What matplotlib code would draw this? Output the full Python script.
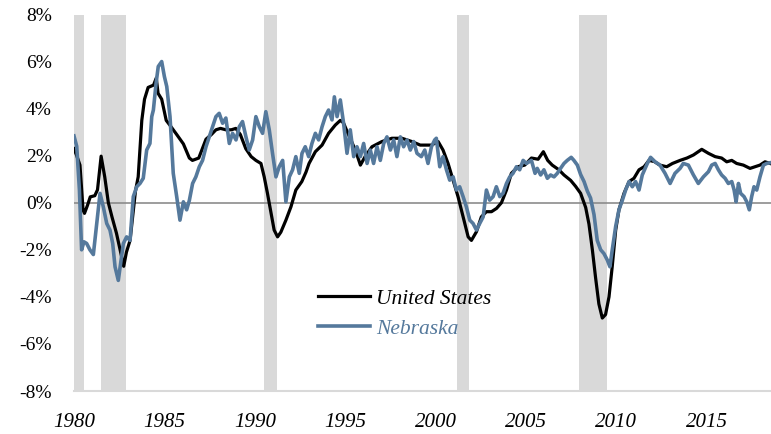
import matplotlib
matplotlib.use('Agg')
import matplotlib.pyplot as plt

plt.rcParams['font.family'] = ['Liberation Serif', 'DejaVu Serif']

# recession bands (decimal years)
rec_start = [1980.0, 1981.5, 1990.5, 2001.17, 2007.92]
rec_end = [1980.55, 1982.88, 1991.2, 2001.85, 2009.47]

# United States, year-over-year job growth (%)
us_years = [1980.0, 1980.15, 1980.33, 1980.5, 1980.58, 1980.75, 1980.9, 1981.15, 1981.3, 1981.5,
            1981.7, 1981.9, 1982.1, 1982.35, 1982.55, 1982.75, 1982.9, 1983.1, 1983.4, 1983.55,
            1983.75, 1983.9, 1984.1, 1984.4, 1984.55, 1984.65, 1984.85, 1985.1, 1985.3, 1985.68,
            1986.05, 1986.38, 1986.55, 1986.9, 1987.0, 1987.3, 1987.6, 1987.85, 1988.1, 1988.4,
            1988.7, 1988.95, 1989.2, 1989.5, 1989.8, 1990.06, 1990.34, 1990.52, 1990.7, 1990.9,
            1991.07, 1991.26, 1991.44, 1991.72, 1992.0, 1992.27, 1992.6, 1992.83, 1993.0, 1993.35,
            1993.72, 1994.08, 1994.45, 1994.73, 1994.9, 1995.19, 1995.56, 1995.84, 1996.1, 1996.48,
            1997.03, 1997.58, 1998.14, 1998.69, 1999.15, 1999.5, 1999.77, 2000.14, 2000.41, 2000.69,
            2000.97, 2001.24, 2001.52, 2001.8, 2001.98, 2002.26, 2002.53, 2002.81, 2003.09, 2003.37,
            2003.64, 2003.92, 2004.19, 2004.56, 2004.93, 2005.3, 2005.67, 2005.96, 2006.2, 2006.45,
            2006.82, 2007.1, 2007.47, 2007.74, 2008.02, 2008.3, 2008.48, 2008.67, 2008.85, 2009.03,
            2009.22, 2009.4, 2009.59, 2009.77, 2009.96, 2010.14, 2010.42, 2010.7, 2010.97, 2011.25,
            2011.53, 2011.8, 2012.1, 2012.4, 2012.78, 2013.1, 2013.52, 2013.9, 2014.26, 2014.72,
            2015.09, 2015.46, 2015.82, 2016.1, 2016.38, 2016.65, 2017.02, 2017.39, 2017.67, 2017.94,
            2018.22, 2018.5]
us_vals = [2.3, 2.0, 1.6, -0.3, -0.45, -0.1, 0.25, 0.3, 0.55, 1.98,
           1.1, 0.0, -0.6, -1.3, -2.0, -2.7, -2.1, -1.6, 0.5, 1.1,
           3.5, 4.4, 4.9, 5.0, 5.3, 4.65, 4.4, 3.5, 3.3, 2.9,
           2.5, 1.9, 1.8, 1.9, 2.1, 2.7, 2.9, 3.1, 3.16, 3.1,
           3.1, 3.16, 2.9, 2.3, 1.96, 1.8, 1.67, 1.1, 0.4, -0.45,
           -1.16, -1.45, -1.25, -0.74, -0.17, 0.54, 0.9, 1.3, 1.67, 2.17,
           2.45, 2.95, 3.3, 3.5, 3.4, 2.88, 2.24, 1.6, 1.96, 2.38,
           2.6, 2.74, 2.74, 2.6, 2.45, 2.45, 2.45, 2.6, 2.24, 1.67,
           0.96, 0.26, -0.6, -1.45, -1.6, -1.23, -0.6, -0.38, -0.38, -0.24,
           0.0, 0.54, 1.25, 1.53, 1.6, 1.9, 1.85, 2.17, 1.8, 1.6,
           1.4, 1.18, 0.95, 0.7, 0.4, -0.2, -0.9, -2.0, -3.2, -4.3,
           -4.9, -4.75, -4.0, -2.7, -1.16, -0.3, 0.4, 0.9, 1.04, 1.4,
           1.53, 1.8, 1.75, 1.6, 1.53, 1.67, 1.8, 1.9, 2.03, 2.27,
           2.1, 1.96, 1.9, 1.74, 1.8, 1.67, 1.6, 1.46, 1.53, 1.6,
           1.74, 1.67]

# Nebraska, year-over-year job growth (%)
ne_years = [1980.0, 1980.15, 1980.3, 1980.42, 1980.55, 1980.7, 1980.88, 1981.07, 1981.22, 1981.44,
            1981.62, 1981.81, 1981.99, 1982.14, 1982.27, 1982.45, 1982.58, 1982.73, 1982.91, 1983.1,
            1983.28, 1983.47, 1983.65, 1983.83, 1984.02, 1984.2, 1984.3, 1984.39, 1984.54, 1984.66,
            1984.85, 1985.0, 1985.13, 1985.31, 1985.49, 1985.68, 1985.86, 1986.05, 1986.23, 1986.38,
            1986.56, 1986.74, 1986.93, 1987.11, 1987.3, 1987.48, 1987.66, 1987.85, 1988.03, 1988.22,
            1988.4, 1988.59, 1988.77, 1988.96, 1989.14, 1989.32, 1989.51, 1989.69, 1989.88, 1990.06,
            1990.25, 1990.43, 1990.61, 1990.8, 1990.98, 1991.17, 1991.35, 1991.54, 1991.72, 1991.91,
            1992.09, 1992.27, 1992.46, 1992.61, 1992.79, 1992.98, 1993.16, 1993.35, 1993.53, 1993.72,
            1993.9, 1994.08, 1994.27, 1994.4, 1994.55, 1994.73, 1994.91, 1995.1, 1995.28, 1995.47,
            1995.65, 1995.84, 1996.02, 1996.21, 1996.39, 1996.57, 1996.76, 1996.94, 1997.13, 1997.31,
            1997.5, 1997.68, 1997.86, 1998.05, 1998.23, 1998.42, 1998.6, 1998.79, 1998.97, 1999.21,
            1999.4, 1999.58, 1999.77, 1999.95, 2000.04, 2000.23, 2000.41, 2000.6, 2000.78, 2000.97,
            2001.15, 2001.33, 2001.52, 2001.7, 2001.89, 2002.07, 2002.26, 2002.44, 2002.63, 2002.81,
            2002.99, 2003.18, 2003.36, 2003.55, 2003.73, 2003.92, 2004.1, 2004.28, 2004.47, 2004.65,
            2004.84, 2005.02, 2005.3, 2005.5, 2005.62, 2005.81, 2005.99, 2006.18, 2006.36, 2006.55,
            2006.73, 2006.91, 2007.1, 2007.28, 2007.5, 2007.65, 2007.84, 2008.02, 2008.21, 2008.39,
            2008.57, 2008.76, 2008.94, 2009.13, 2009.31, 2009.5, 2009.64, 2009.77, 2009.96, 2010.14,
            2010.33, 2010.51, 2010.7, 2010.88, 2011.06, 2011.25, 2011.43, 2011.71, 2011.89, 2012.14,
            2012.41, 2012.69, 2012.97, 2013.24, 2013.52, 2013.7, 2013.98, 2014.26, 2014.53, 2014.81,
            2015.09, 2015.27, 2015.46, 2015.64, 2015.82, 2016.01, 2016.19, 2016.38, 2016.51, 2016.62,
            2016.75, 2016.87, 2017.06, 2017.21, 2017.35, 2017.48, 2017.61, 2017.76, 2017.94, 2018.13,
            2018.31, 2018.5]
ne_vals = [2.84, 2.4, 0.54, -2.0, -1.66, -1.73, -2.0, -2.2, -1.16, 0.4,
           -0.17, -0.88, -1.16, -1.73, -2.72, -3.3, -2.58, -1.73, -1.45, -1.6,
           0.26, 0.68, 0.82, 1.04, 2.24, 2.52, 3.66, 3.94, 5.08, 5.79,
           6.0, 5.36, 4.94, 3.66, 1.25, 0.26, -0.74, 0.04, -0.3, 0.1,
           0.82, 1.1, 1.53, 1.8, 2.38, 2.8, 3.23, 3.66, 3.8, 3.38,
           3.6, 2.52, 2.95, 2.67, 3.23, 3.45, 2.8, 2.24, 2.67, 3.66,
           3.23, 2.95, 3.87, 3.1, 2.1, 1.1, 1.53, 1.8, 0.04, 1.1,
           1.4, 1.96, 1.25, 2.1, 2.38, 1.96, 2.52, 2.95, 2.67, 3.23,
           3.66, 3.94, 3.52, 4.5, 3.66, 4.37, 3.38, 2.1, 3.1, 1.96,
           2.38, 1.96, 2.52, 1.67, 2.24, 1.67, 2.38, 1.8, 2.52, 2.8,
           2.24, 2.67, 1.96, 2.8, 2.38, 2.67, 2.24, 2.6, 2.1, 1.96,
           2.24, 1.67, 2.38, 2.67, 2.74, 1.53, 1.96, 1.4, 0.96, 1.1,
           0.54, 0.68, 0.26, -0.17, -0.74, -0.88, -1.16, -0.88, -0.6, 0.54,
           0.11, 0.26, 0.68, 0.26, 0.4, 0.82, 1.1, 1.25, 1.53, 1.4,
           1.8, 1.67, 1.8, 1.25, 1.46, 1.18, 1.4, 1.04, 1.18, 1.1,
           1.25, 1.46, 1.67, 1.8, 1.93, 1.8, 1.6, 1.2, 0.9, 0.5,
           0.2, -0.5, -1.6, -2.0, -2.16, -2.44, -2.72, -2.0, -1.0, -0.3,
           0.11, 0.54, 0.9, 0.68, 0.9, 0.54, 1.18, 1.67, 1.93, 1.74,
           1.6, 1.25, 0.82, 1.25, 1.46, 1.67, 1.6, 1.18, 0.82, 1.1,
           1.32, 1.6, 1.67, 1.4, 1.18, 1.04, 0.82, 0.9, 0.54, 0.04,
           0.82, 0.4, 0.26, 0.04, -0.3, 0.26, 0.68, 0.54, 1.1, 1.6,
           1.67, 1.7]

year_ticks = [1980, 1985, 1990, 1995, 2000, 2005, 2010, 2015]
pct_ticks = [-8, -6, -4, -2, 0, 2, 4, 6, 8]

us_color = '#000000'
ne_color = '#55799C'

fig = plt.figure(figsize=(7.71, 4.34), dpi=100)
ax = fig.add_axes([74 / 771, 1 - 391 / 434, 697 / 771, 376.5 / 434])

for s, e in zip(rec_start, rec_end):
    ax.axvspan(s, e, color='#D9D9D9', lw=0, zorder=0)

ax.axhline(0, color='#8C8C8C', lw=1.2, zorder=1)

ax.plot(us_years, us_vals, color=us_color, lw=2.3, label='United States', zorder=3)
ax.plot(ne_years, ne_vals, color=ne_color, lw=2.6, label='Nebraska', zorder=4)

ax.set_xlim(1980, 2018.55)
ax.set_ylim(-8, 8)

ax.set_yticks(pct_ticks)
ax.set_yticklabels(['%d%%' % v for v in pct_ticks], fontsize=14)
ax.set_xticks(year_ticks)
ax.set_xticklabels([str(y) for y in year_ticks], fontsize=15, style='italic')
ax.tick_params(axis='both', length=0)
ax.tick_params(axis='y', pad=16)
ax.tick_params(axis='x', pad=16)

for side in ['top', 'right', 'left']:
    ax.spines[side].set_visible(False)
ax.spines['bottom'].set_color('#D9D9D9')
ax.spines['bottom'].set_linewidth(1.5)

leg = ax.legend(loc='upper left', bbox_to_anchor=(0.335, 0.30), frameon=False,
                prop={'size': 15.5, 'style': 'italic'}, handlelength=2.4,
                handletextpad=0.3, labelspacing=0.45, borderpad=0,
                labelcolor='linecolor')

fig.savefig('out.png', dpi=100)
